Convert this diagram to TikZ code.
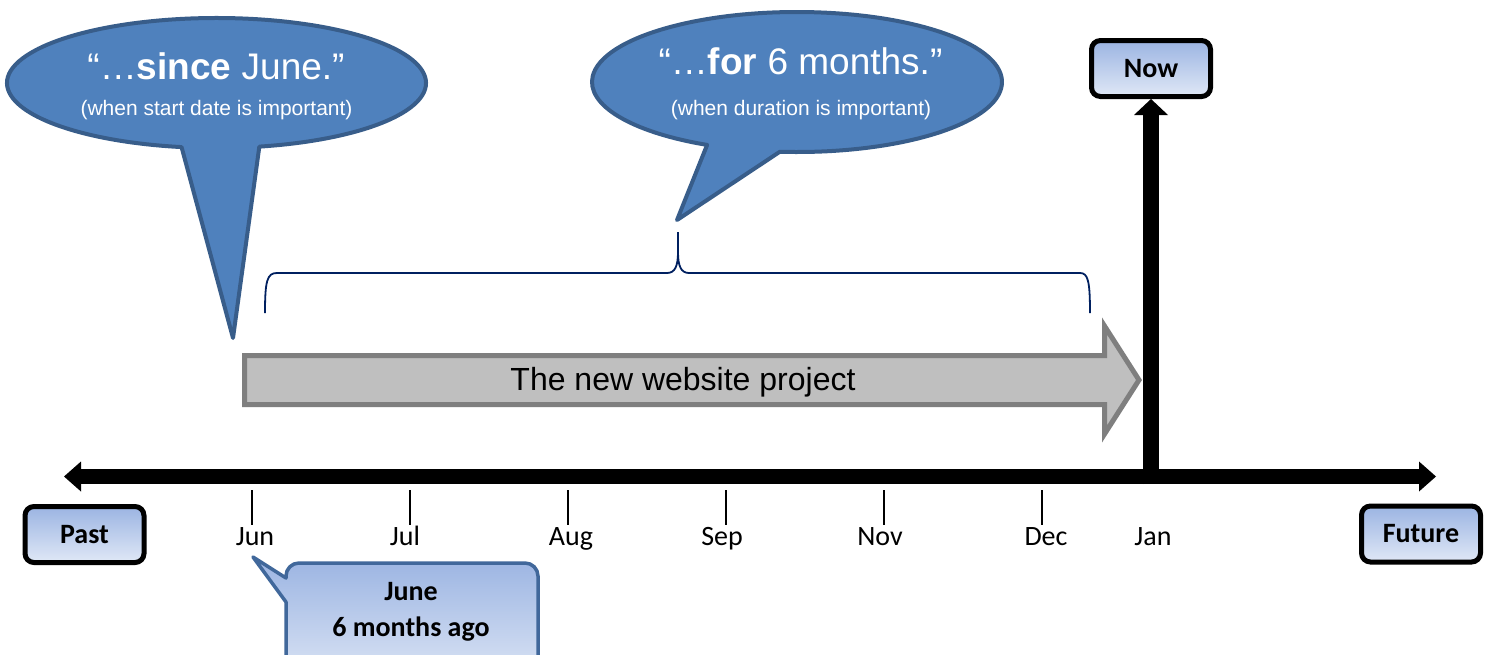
\documentclass[tikz,border=0pt]{standalone}
\usepackage{fontspec}
\setmainfont{Carlito}
\newfontfamily\arialf{Liberation Sans}
\usetikzlibrary{arrows.meta}
\definecolor{bubfill}{HTML}{4F81BD}
\definecolor{bubline}{HTML}{385D8A}
\definecolor{gtop}{RGB}{155,180,226}
\definecolor{gbot}{RGB}{224,232,246}
\definecolor{calline}{HTML}{41689B}
\definecolor{projfill}{HTML}{BFBFBF}
\definecolor{projline}{HTML}{7F7F7F}
\definecolor{bracec}{HTML}{002060}
\tikzset{
  lbl/.style={font=\fontsize{28}{36}\selectfont\bfseries},
  tbox/.style={draw=black, line width=5pt, rounded corners=9pt, top color=gtop, bottom color=gbot,
    lbl, minimum width=119pt, minimum height=56pt, inner sep=0pt},
  tickmark/.style={line width=1.5pt},
  month/.style={font=\fontsize{28}{34}\selectfont, anchor=base, inner sep=0pt},
  bubble/.style={fill=bubfill, draw=bubline, line width=4pt, line join=round},
  bigq/.style={font=\arialf\fontsize{37}{44}\selectfont, text=white, anchor=base, inner sep=0pt},
  smallq/.style={font=\arialf\fontsize{21}{25}\selectfont, text=white, anchor=base, inner sep=0pt},
  axisline/.style={line width=15pt, {Triangle[width=30pt,length=17pt,line width=0pt]}-{Triangle[width=30pt,length=17pt,line width=0pt]}},
  nowline/.style={line width=16pt, -{Triangle[width=34pt,length=16pt,line width=0pt]}},
  projarrow/.style={fill=projfill, draw=projline, line width=5pt, miter limit=10},
  bracepath/.style={draw=bracec, line width=1.8pt},
  callout/.style={draw=calline, line width=3.5pt, top color=gtop, bottom color=gbot, line join=round}
}
\begin{document}
\begin{tikzpicture}[x=1pt,y=-1pt]
\useasboundingbox (0,0) rectangle (1492,654);
\clip (0,0) rectangle (1492,654);
\fill[white] (0,0) rectangle (1492,654);

% left speech bubble
\path[bubble] (216.5,83) ++(78.2:209.5 and 65) arc[start angle=78.2, end angle=-260.4, x radius=209.5, y radius=65] -- (233,338) -- cycle;
\node[bigq] (since) at (216,79) {“…\textbf{since} June.”};
\node[smallq] (sincesub) at (216.5,115) {(when start date is important)};

% right speech bubble
\path[bubble] (797,82) ++(94.8:205 and 70) arc[start angle=94.8, end angle=-244, x radius=205, y radius=70] -- (677,220) -- cycle;
\node[bigq] (for) at (800.5,74) {“…\textbf{for} 6 months.”};
\node[smallq] (forsub) at (801,115) {(when duration is important)};

% brace
\path[bracepath] (265,313) .. controls (265,281) and (267,273) .. (277,273) -- (667,273)
  .. controls (675,273) and (678,266) .. (678,252) -- (678,232) -- (678,252)
  .. controls (678,266) and (681,273) .. (689,273) -- (1080,273)
  .. controls (1088,273) and (1090,281) .. (1090,313);

% project arrow
\path[projarrow] (244.5,355.5) -- (1104.5,355.5) -- (1104.5,326) -- (1139,380) -- (1104.5,434) -- (1104.5,404.5) -- (244.5,404.5) -- cycle;
\node[font=\arialf\fontsize{32}{38}\selectfont, inner sep=0pt] (proj) at (683,382) {The new website project};

% boxes
\node[tbox] (now) at (1151,68.5) {Now};
\node[tbox] (past) at (84.5,534.5) {Past};
\node[tbox] (future) at (1421,534) {Future};

% axis
\coordinate (pastend) at (64,476.5);
\coordinate (futend) at (1436,476.5);
\draw[axisline] (pastend) -- (futend);
\coordinate (nowbase) at (1151,484);
\draw[nowline] (nowbase) -- (now.south);

% ticks and months
\foreach \nm/\xx in {jun/252, jul/410, aug/568, sep/726, nov/884, dec/1042} {
  \coordinate (t\nm a) at (\xx,490);
  \coordinate (t\nm b) at (\xx,525);
  \draw[tickmark] (t\nm a) -- (t\nm b);
}
\node[month] (mjun) at (255,545) {Jun};
\node[month] (mjul) at (405,545) {Jul};
\node[month] (maug) at (571,545) {Aug};
\node[month] (msep) at (722,545) {Sep};
\node[month] (mnov) at (880,545) {Nov};
\node[month] (mdec) at (1046,545) {Dec};
\node[month] (mjan) at (1153,545) {Jan};

% June callout
\path[callout] (286,690) -- (286,602) -- (253,557) -- (286,578) [rounded corners=13pt] -- (286,563) -- (538,563) -- (538,690);
\node[lbl, align=center, inner sep=0pt] (june) at (411,612) {June\\6 months ago};
\end{tikzpicture}
\end{document}
